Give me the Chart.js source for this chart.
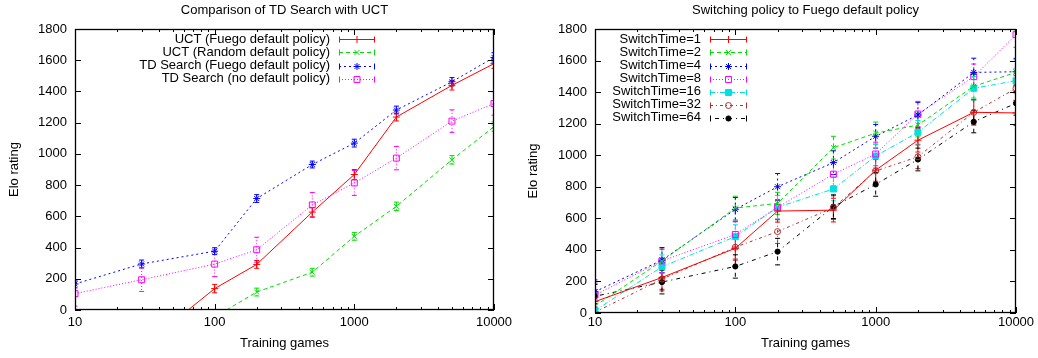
<!DOCTYPE html>
<html>
<head>
<meta charset="utf-8">
<script src="https://cdn.jsdelivr.net/npm/chart.js@4.4.1/dist/chart.umd.min.js"></script>
<style>
  html, body { margin: 0; padding: 0; background: #fff; }
  #wrap { display: flex; width: 1038px; height: 358px; }
  canvas { display: block; }
</style>
</head>
<body>
<div id="wrap">
  <canvas id="tdVsUct" width="519" height="358"></canvas>
  <canvas id="switching" width="519" height="358"></canvas>
</div>
<script>
// ---- shared axes ----
const trainingGames = [10, 30, 100, 200, 500, 1000, 2000, 5000, 10000];
const xTickLabels = [10, 100, 1000, 10000];
const yTickLabels = [0, 200, 400, 600, 800, 1000, 1200, 1400, 1600, 1800];

// ---- Comparison of TD Search with UCT (Elo, with error half-widths) ----
const uctFuego       = [null, -240, 137, 292, 627, 868, 1236, 1439, 1578];
const uctFuegoErr    = [null,   25,  27,  25,  30,  32,   25,   30,   30];
const uctRandom      = [null, null, -45, 115, 242, 472, 664, 962, 1175];
const uctRandomErr   = [null, null,  25,  25,  25,  25,  27,  27,   30];
const tdFuego        = [167, 295, 377, 714, 932, 1069, 1281, 1462, 1618];
const tdFuegoErr     = [ 25,  25,  22,  25,  22,   25,   25,   27,   30];
const tdNoDefault    = [105, 194, 294, 386, 673, 814, 973, 1210, 1323];
const tdNoDefaultErr = [ 80,  75,  80,  80,  80,  80,  75,   72,   75];

// ---- Switching policy to Fuego default policy ----
const switch1    = [ 72, 225, 410, 646, 652,  905, 1095, 1272, 1268];
const switch1Err = [ 75,  75,  75,  70,  75,   70,   75,   80,   80];
const switch2    = [ 45, 330, 665, 695, 1048, 1140, 1191, 1437, 1525];
const switch2Err = [ 70,  75,  75,  70,   72,   70,   75,   75,   80];
const switch4    = [135, 335, 657, 800, 953, 1120, 1255, 1525, 1529];
const switch4Err = [ 75,  80,  75,  84,  75,   75,   80,   90,   85];
const switch8    = [114, 330, 498, 670, 880, 1008, 1261, 1498, 1764];
const switch8Err = [ 75,  75,  80,  75,  75,   75,   80,   80,   80];
const switch16    = [ 15, 293, 484, 670, 786, 995, 1145, 1424, 1472];
const switch16Err = [ 70,  75,  75,  75,  75,  75,   75,   75,   80];
const switch32    = [  5, 215, 417, 516, 668, 900, 990, 1272, 1424];
const switch32Err = [ 70,  75,  75,  75,  75,  75,  75,   80,   80];
const switch64    = [106, 196, 295, 389, 674, 815, 973, 1212, 1329];
const switch64Err = [ 75,  75,  74,  84,  75,  75,  72,   70,   75];

Chart.defaults.font.family = "'Liberation Sans', Arial, Helvetica, sans-serif";
Chart.defaults.font.size = 13;
Chart.defaults.color = '#000';

// gnuplot-like line styles
const styles = {
  red:     { color: '#ff0000', dash: [],            point: 'cross',    radius: 3.5, fill: false },
  green:   { color: '#00dd00', dash: [4, 3],        point: 'crossRot', radius: 3.5, fill: false },
  blue:    { color: '#0000ff', dash: [2, 3],        point: 'star',     radius: 3.5, fill: false },
  magenta: { color: '#ff00ff', dash: [1, 2],        point: 'rect',     radius: 4.2, fill: false },
  cyan:    { color: '#00e0e0', dash: [5, 2, 1, 2],  point: 'rect',     radius: 4.2, fill: true },
  brown:   { color: '#b03030', dash: [3, 3, 1, 3],  point: 'circle',   radius: 3,   fill: false },
  black:   { color: '#000000', dash: [1, 4, 4, 4],  point: 'circle',   radius: 2.6, fill: true }
};

function series(label, values, errors, st) {
  const s = styles[st];
  return {
    label,
    data: trainingGames.map((x, i) => ({ x, y: values[i] })),
    errors,
    borderColor: s.color,
    backgroundColor: s.fill ? s.color : 'rgba(0,0,0,0)',
    borderWidth: 1,
    borderDash: s.dash,
    pointStyle: s.point,
    pointRadius: s.radius,
    pointBorderColor: s.color,
    pointBackgroundColor: s.fill ? s.color : 'rgba(0,0,0,0)',
    pointBorderWidth: 1,
    spanGaps: false,
    tension: 0
  };
}

function line(ctx, x1, y1, x2, y2) {
  ctx.beginPath(); ctx.moveTo(x1, y1); ctx.lineTo(x2, y2); ctx.stroke();
}

function marker(ctx, ds, x, y) {
  ctx.save();
  ctx.setLineDash([]);
  ctx.strokeStyle = ds.pointBorderColor;
  ctx.fillStyle = ds.pointBackgroundColor;
  ctx.lineWidth = 1;
  Chart.helpers.drawPoint(ctx, { pointStyle: ds.pointStyle, radius: ds.pointRadius, borderWidth: 1, rotation: 0 }, x, y);
  ctx.restore();
}

// frame, inward ticks, error bars, title and key drawn gnuplot-style
const gnuplotFrame = {
  id: 'gnuplotFrame',
  beforeDatasetsDraw(chart) {
    const { ctx, chartArea: ca } = chart;
    const xs = chart.scales.x, ys = chart.scales.y;
    ctx.save();
    ctx.beginPath();
    ctx.rect(ca.left, ca.top, ca.width, ca.height);
    ctx.clip();
    chart.data.datasets.forEach(ds => {
      ctx.strokeStyle = ds.borderColor;
      ctx.lineWidth = 1;
      ctx.setLineDash(ds.borderDash);
      ds.data.forEach((p, i) => {
        const e = ds.errors[i];
        if (p.y === null || e === null) return;
        const x = xs.getPixelForValue(p.x);
        const yt = ys.getPixelForValue(p.y + e);
        const yb = ys.getPixelForValue(p.y - e);
        line(ctx, x, yt, x, yb);
        ctx.setLineDash([]);
        line(ctx, x - 2.5, yt, x + 2.5, yt);
        line(ctx, x - 2.5, yb, x + 2.5, yb);
        ctx.setLineDash(ds.borderDash);
      });
    });
    ctx.restore();
  },
  afterDraw(chart, args, opts) {
    const { ctx, chartArea: ca } = chart;
    const xs = chart.scales.x, ys = chart.scales.y;
    ctx.save();
    ctx.strokeStyle = '#000';
    ctx.lineWidth = 1;
    ctx.setLineDash([]);
    // inward ticks, mirrored on the opposite side
    ys.ticks.forEach(t => {
      const y = Math.round(ys.getPixelForValue(t.value)) + 0.5;
      line(ctx, ca.left, y, ca.left + 6, y);
      line(ctx, ca.right, y, ca.right - 6, y);
    });
    xs.ticks.forEach(t => {
      const len = xTickLabels.includes(t.value) ? 6 : 3;
      const x = Math.round(xs.getPixelForValue(t.value)) + 0.5;
      line(ctx, x, ca.bottom, x, ca.bottom - len);
      line(ctx, x, ca.top, x, ca.top + len);
    });
    // border
    ctx.lineWidth = 1.3;
    ctx.strokeRect(Math.round(ca.left) + 0.5, Math.round(ca.top) + 0.5,
                   Math.round(ca.width) - 1, Math.round(ca.height) - 1);
    // title
    ctx.fillStyle = '#000';
    ctx.font = "13px 'Liberation Sans', Arial, sans-serif";
    ctx.textAlign = 'center';
    ctx.textBaseline = 'middle';
    ctx.fillText(opts.title, (ca.left + ca.right) / 2, opts.titleY);
    // key
    const k = opts.key;
    chart.data.datasets.forEach((ds, i) => {
      const y = k.y0 + i * k.step;
      ctx.fillStyle = '#000';
      ctx.textAlign = 'right';
      ctx.fillText(ds.label, k.textRight, y);
      const yy = Math.round(y) + 0.5;
      ctx.strokeStyle = ds.borderColor;
      ctx.lineWidth = 1;
      ctx.setLineDash(ds.borderDash);
      line(ctx, k.x1, yy, k.x2, yy);
      ctx.setLineDash([]);
      line(ctx, k.x1 + 0.5, yy - 3, k.x1 + 0.5, yy + 3);
      line(ctx, k.x2 - 0.5, yy - 3, k.x2 - 0.5, yy + 3);
      marker(ctx, ds, (k.x1 + k.x2) / 2, yy);
    });
    ctx.restore();
  }
};

const logTicks = [];
[10, 100, 1000].forEach(d => { for (let m = 1; m < 10; m++) logTicks.push(d * m); });
logTicks.push(10000);

function makeChart(id, datasets, cfg) {
  return new Chart(document.getElementById(id), {
    type: 'line',
    data: { datasets },
    plugins: [gnuplotFrame],
    options: {
      responsive: false,
      animation: false,
      events: [],
      layout: { padding: { top: cfg.top, left: 0, right: cfg.right, bottom: 0 } },
      plugins: {
        legend: { display: false },
        tooltip: { enabled: false },
        title: { display: false },
        gnuplotFrame: { title: cfg.title, titleY: 10, key: cfg.key }
      },
      scales: {
        x: {
          type: 'logarithmic',
          min: 10, max: 10000,
          grid: { display: false, drawTicks: false },
          border: { display: false },
          afterBuildTicks: s => { s.ticks = logTicks.map(v => ({ value: v })); },
          afterFit: s => { s.height = cfg.xAxisHeight; },
          ticks: {
            autoSkip: false, maxRotation: 0, minRotation: 0,
            padding: cfg.xTickPad,
            callback: v => xTickLabels.includes(v) ? String(v) : ''
          },
          title: { display: true, text: 'Training games', padding: { top: 0, bottom: 7 } }
        },
        y: {
          type: 'linear',
          min: 0, max: 1800,
          grid: { display: false, drawTicks: false },
          border: { display: false },
          afterBuildTicks: s => { s.ticks = yTickLabels.map(v => ({ value: v })); },
          afterFit: s => { s.width = cfg.yAxisWidth; },
          ticks: { padding: 8, callback: v => String(v) },
          title: { display: true, text: 'Elo rating', padding: { top: 7, bottom: 0 } }
        }
      }
    }
  });
}

makeChart('tdVsUct', [
  series('UCT (Fuego default policy)', uctFuego, uctFuegoErr, 'red'),
  series('UCT (Random default policy)', uctRandom, uctRandomErr, 'green'),
  series('TD Search (Fuego default policy)', tdFuego, tdFuegoErr, 'blue'),
  series('TD Search (no default policy)', tdNoDefault, tdNoDefaultErr, 'magenta')
], {
  title: 'Comparison of TD Search with UCT',
  top: 29, right: 25, xAxisHeight: 48, yAxisWidth: 75, xTickPad: 5,
  key: { textRight: 330, x1: 339, x2: 375, y0: 39.3, step: 13.1 }
});

makeChart('switching', [
  series('SwitchTime=1', switch1, switch1Err, 'red'),
  series('SwitchTime=2', switch2, switch2Err, 'green'),
  series('SwitchTime=4', switch4, switch4Err, 'blue'),
  series('SwitchTime=8', switch8, switch8Err, 'magenta'),
  series('SwitchTime=16', switch16, switch16Err, 'cyan'),
  series('SwitchTime=32', switch32, switch32Err, 'brown'),
  series('SwitchTime=64', switch64, switch64Err, 'black')
], {
  title: 'Switching policy to Fuego default policy',
  top: 29, right: 22, xAxisHeight: 45, yAxisWidth: 76, xTickPad: 2,
  key: { textRight: 182, x1: 191, x2: 228, y0: 39.3, step: 13.1 }
});
</script>
</body>
</html>
